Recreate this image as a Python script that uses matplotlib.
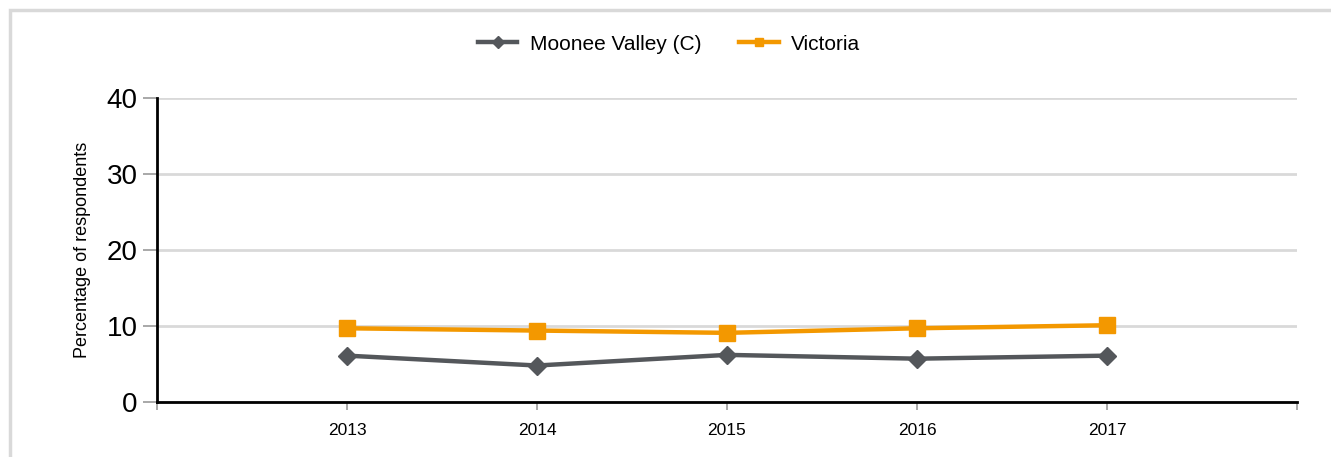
import matplotlib.pyplot as plt
import matplotlib.patches as patches
import numpy as np

plt.rcParams['font.family'] = ['Liberation Sans', 'DejaVu Sans']

years = ['2013', '2014', '2015', '2016', '2017']
moonee_valley = [6.1, 4.8, 6.2, 5.7, 6.1]
victoria = [9.7, 9.4, 9.1, 9.7, 10.1]

grey = '#54575b'
orange = '#f39800'

fig = plt.figure(figsize=(13.31, 4.57), dpi=100)
ax = fig.add_axes([157 / 1331, 1 - 402 / 457, 1140 / 1331, 304 / 457])

# light frame round the chart area
fig.patches.append(patches.Rectangle((10 / 1331, -0.1), 1.2, 1 - 10 / 457 + 0.1,
                                     transform=fig.transFigure, fill=False,
                                     edgecolor='#d9d9d9', linewidth=2.5))

x = np.arange(1, len(years) + 1)
ax.plot(x, victoria, color=orange, linewidth=3.2, marker='s', markersize=11.5,
        label='Victoria', zorder=3)
ax.plot(x, moonee_valley, color=grey, linewidth=3.2, marker='D', markersize=9,
        label='Moonee Valley (C)', zorder=4)

ax.set_xlim(0, len(years) + 1)
ax.set_ylim(0, 40)
ax.set_yticks([0, 10, 20, 30, 40])
ax.set_xticks([0] + list(x) + [len(years) + 1])
ax.set_xticklabels([''] + years + [''])
ax.yaxis.grid(True, color='#d9d9d9', linewidth=2)
ax.set_axisbelow(True)

for s in ['top', 'right']:
    ax.spines[s].set_visible(False)
ax.spines['left'].set_linewidth(2)
ax.spines['bottom'].set_linewidth(2)
ax.tick_params(axis='y', labelsize=20, length=10, width=1.2, color='#999999', pad=4)
ax.tick_params(axis='x', labelsize=12.5, length=6, width=1.2, color='#999999', pad=9)
ax.set_ylabel('Percentage of respondents', fontsize=13, labelpad=11)

handles, labels = ax.get_legend_handles_labels()
leg = fig.legend(handles[::-1], labels[::-1], loc='center', bbox_to_anchor=(669 / 1331, 1 - 44 / 457),
                 ncol=2, frameon=False, fontsize=15, handlelength=1.9, columnspacing=1.8,
                 handletextpad=0.6)
for h in leg.legend_handles:
    h.set_markersize(6)

fig.savefig('out.png', dpi=100)
